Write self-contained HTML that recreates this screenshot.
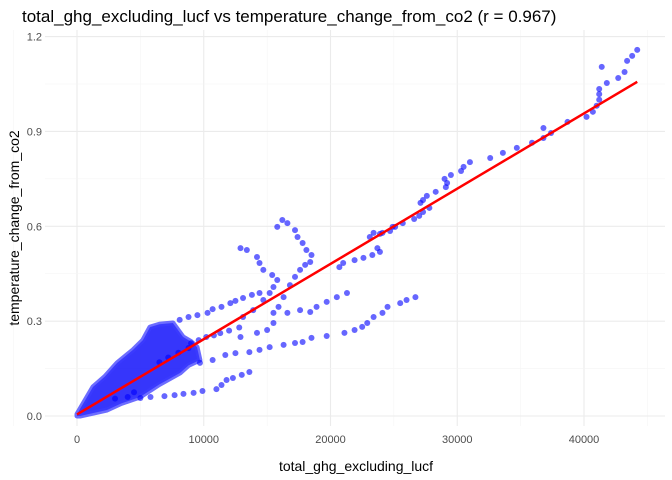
<!DOCTYPE html>
<html><head><meta charset="utf-8"><style>
body{margin:0;background:#fff}
svg{display:block;font-family:"Liberation Sans",sans-serif}
</style></head><body>
<svg id="chart" width="672" height="480">
<text x="22" y="22" font-size="17" fill="#000">total_ghg_excluding_lucf vs temperature_change_from_co2 (r = 0.967)</text>
<g id="grid"></g>
<g id="ticks"></g>
<g id="blob"></g>
<g id="points"></g>
<g id="fit"></g>
<text x="356" y="471" font-size="14" text-anchor="middle">total_ghg_excluding_lucf</text>
<text transform="translate(19,228) rotate(-90)" font-size="14" text-anchor="middle">temperature_change_from_co2</text>
</svg>
<script>
const xTicks=[0,10000,20000,30000,40000];
const yTicks=[0.0,0.3,0.6,0.9,1.2];
const yTickLabels=["0.0","0.3","0.6","0.9","1.2"];
const fitIntercept=0.005;
const fitSlope=0.0000238;
const fitRange=[0,44200];
// dense cluster outline (data units, x in thousands)
const blobX=[0,1.26,2.2,3.16,4.42,5.2,5.76,6.5,7.57,8.36,9.0,9.47,9.70,8.8,8.13,6.5,4.97,3.5,2.37,0.24,0];
const blobY=[0.006,0.092,0.125,0.168,0.209,0.240,0.281,0.290,0.294,0.250,0.235,0.218,0.177,0.160,0.136,0.100,0.060,0.040,0.019,0,0];
// individual points (x in thousands)
const ptX=[8.1,8.8,9.5,10.3,10.7,11.4,12.1,12.5,13.1,13.8,14.4,
12.9,13.4,14.2,14.4,14.7,15.4,15.8,15.5,15.2,14.7,13.9,13.1,
15.8,16.2,16.6,17.2,17.4,17.8,18.1,18.5,18.4,18.0,17.6,17.2,16.8,16.3,15.9,15.5,
9.7,10.7,11.7,12.5,13.6,14.4,15.2,16.3,17.2,17.8,18.5,19.7,21.1,21.9,22.5,22.9,23.4,24.1,24.5,25.5,26.0,26.7,
5.0,5.8,6.9,7.7,8.4,9.2,9.9,11.0,11.4,11.8,12.3,13.0,13.6,
12.9,14.2,15.0,15.5,16.6,17.6,18.4,18.9,19.7,20.5,21.3,
20.7,21.0,21.9,22.6,23.3,23.1,23.7,23.9,23.4,24.1,24.9,
23.9,24.7,25.1,25.7,26.6,27.0,27.3,27.8,27.1,27.3,27.6,28.3,29.1,29.2,29.0,29.5,30.3,30.5,31.0,32.6,33.6,34.7,35.9,36.8,36.8,37.4,38.7,40.2,40.7,41.0,41.2,41.2,41.2,41.4,41.8,42.7,43.2,43.4,43.8,44.2,
6.5,7.2,8.0,8.8,9.0,9.6,10.2,10.8,11.3,12.0,12.8,3.0,4.0,4.5];
const ptY=[.304,.313,.319,.326,.338,.345,.357,.364,.373,.383,.389,
.531,.525,.503,.484,.462,.446,.430,.408,.389,.367,.335,.313,
.598,.620,.610,.588,.566,.547,.525,.509,.487,.478,.462,.440,.414,.376,.345,.326,
.168,.177,.193,.199,.202,.209,.218,.225,.231,.234,.247,.253,.263,.272,.282,.294,.313,.326,.345,.357,.367,.376,
.057,.060,.063,.066,.070,.073,.079,.085,.098,.114,.120,.130,.139,
.250,.263,.272,.294,.326,.335,.329,.345,.361,.376,.389,
.471,.484,.493,.500,.509,.566,.531,.519,.579,.579,.598,
.576,.585,.598,.610,.623,.633,.645,.658,.674,.683,.696,.709,.724,.737,.750,.762,.775,.788,.803,.816,.832,.848,.864,.879,.911,.895,.930,.946,.962,.981,1.0,1.018,1.034,1.104,1.053,1.069,1.088,1.123,1.139,1.158,
.170,.185,.200,.215,.230,.240,.250,.255,.262,.270,.280,.055,.060,.075];
const NS="http://www.w3.org/2000/svg";
const sx=v=>77+v*0.012675;
const sy=v=>416-v*316.2;
const L=45,R=665,T=30,B=426;
function mk(tag,attrs,parent){const e=document.createElementNS(NS,tag);for(const k in attrs)e.setAttribute(k,attrs[k]);parent.appendChild(e);return e;}
const grid=document.getElementById('grid'),ticks=document.getElementById('ticks');
for(let i=0;i<xTicks.length;i++){
 const x=sx(xTicks[i]);
 const g=mk('line',{x1:x,x2:x,y1:T,y2:B,stroke:'#ebebeb','stroke-width':1.1},grid);
 
 
 const m=sx(xTicks[i]+5000);
 if(m<R){const mm=mk('line',{x1:m,x2:m,y1:T,y2:B,stroke:'#f5f5f5','stroke-width':0.6},grid);
 
 }
 const t=mk('text',{x:x,y:443,'font-size':11,fill:'#4d4d4d','text-anchor':'middle'},ticks);
 t.textContent=String(xTicks[i]);
 
 
}
{const mm=mk('line',{x1:sx(-5000),x2:sx(-5000),y1:T,y2:B,stroke:'#f5f5f5','stroke-width':0.6},grid);}
for(let i=0;i<yTicks.length;i++){
 const y=sy(yTicks[i]);
 const g=mk('line',{x1:L,x2:R,y1:y,y2:y,stroke:'#ebebeb','stroke-width':1.1},grid);
 
 
 if(i<yTicks.length-1){const m=sy(yTicks[i]+0.15);
 const mm=mk('line',{x1:L,x2:R,y1:m,y2:m,stroke:'#f5f5f5','stroke-width':0.6},grid);
 
 }
 const t=mk('text',{x:42,y:y+4,'font-size':11,fill:'#4d4d4d','text-anchor':'end'},ticks);
 t.textContent=yTickLabels[i];
 
 
}
const blob=document.getElementById('blob');
let d='';for(let i=0;i<blobX.length;i++)d+=(i?'L':'M')+sx(blobX[i]*1000).toFixed(1)+','+sy(blobY[i]).toFixed(1);
const bp=mk('path',{d:d+'Z',fill:'rgba(10,10,250,0.82)',stroke:'rgba(60,60,255,0.75)','stroke-width':5,'stroke-linejoin':'round'},blob);


const pts=document.getElementById('points');
for(let i=0;i<ptX.length;i++){
 const c=mk('circle',{cx:sx(ptX[i]*1000),cy:sy(ptY[i]),r:3,fill:'rgba(0,0,255,0.6)'},pts);
 
 
}
const fit=document.getElementById('fit');
const fl=mk('line',{x1:sx(fitRange[0]),y1:sy(fitIntercept+fitSlope*fitRange[0]),x2:sx(fitRange[1]),y2:sy(fitIntercept+fitSlope*fitRange[1]),stroke:'#ff0000','stroke-width':2.5},fit);


</script>
</body></html>
